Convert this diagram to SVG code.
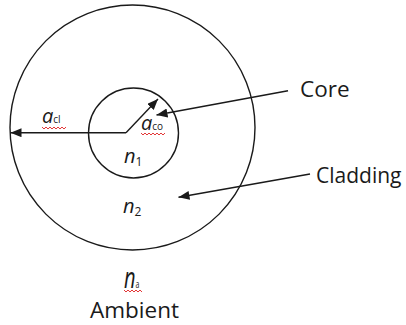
<svg xmlns="http://www.w3.org/2000/svg" width="406" height="325" viewBox="0 0 406 325">
<style>
.ln{fill:none;stroke:#1a1a1a;stroke-width:1.4}
.lbl{font-family:"Open Sans","Liberation Sans",sans-serif;font-size:22.5px;fill:#1a1a1a}
.math{font-family:"Open Sans","Liberation Sans",sans-serif;font-style:italic;font-size:20px;fill:#1a1a1a}
.sub{font-style:normal;font-size:12px}
.sub2{font-style:normal;font-size:10px}
.sq{fill:none;stroke:#e02020;stroke-width:0.9}
</style>
<defs>
<marker id="ah" markerUnits="userSpaceOnUse" markerWidth="12" markerHeight="10" refX="11" refY="4.5" orient="auto">
<path d="M0,0 L11,4.5 L0,9 z" fill="#1a1a1a"/>
</marker>
</defs>
<rect width="406" height="325" fill="#fff"/>
<g id="cladding"><circle class="ln" cx="132.5" cy="127.5" r="122.5"/></g>
<g id="core"><circle class="ln" cx="133.5" cy="133" r="45"/></g>
<g id="connectors">
<path class="ln" d="M126,132.7 L10.5,132.7" marker-end="url(#ah)"/>
<path class="ln" d="M126,132.7 L158,99" marker-end="url(#ah)"/>
<path class="ln" d="M288,90.7 L156.5,115" marker-end="url(#ah)"/>
<path class="ln" d="M310,174 L178.5,197.3" marker-end="url(#ah)"/>
</g>
<g id="labels">
<text class="lbl" x="300" y="97">Core</text>
<text class="lbl" x="316" y="183" style="font-size:21px">Cladding</text>
<text class="lbl" x="90" y="318">Ambient</text>
<text class="math" x="124" y="163">n<tspan class="sub" dy="3">1</tspan></text>
<text class="math" x="123" y="212.5">n<tspan class="sub" dy="3">2</tspan></text>
<text class="math" x="42" y="123">a<tspan class="sub2">cl</tspan></text>
<text class="math" x="141" y="130">a<tspan class="sub2">co</tspan></text>
<text class="math" transform="translate(124,288) scale(1,1.45)">n<tspan class="sub2" style="font-size:7px">a</tspan></text>
</g>
<g id="spellcheck">
<path class="sq" d="M42,127 l2,2 l2,-2 l2,2 l2,-2 l2,2 l2,-2 l2,2 l2,-2 l2,2 l2,-2 l2,2 l2,-2"/>
<path class="sq" d="M141,133 l2,2 l2,-2 l2,2 l2,-2 l2,2 l2,-2 l2,2 l2,-2 l2,2 l2,-2 l2,2 l2,-2"/>
<path class="sq" d="M124,290 l2,2 l2,-2 l2,2 l2,-2 l2,2 l2,-2 l2,2 l2,-2 l2,2"/>
</g>
</svg>
